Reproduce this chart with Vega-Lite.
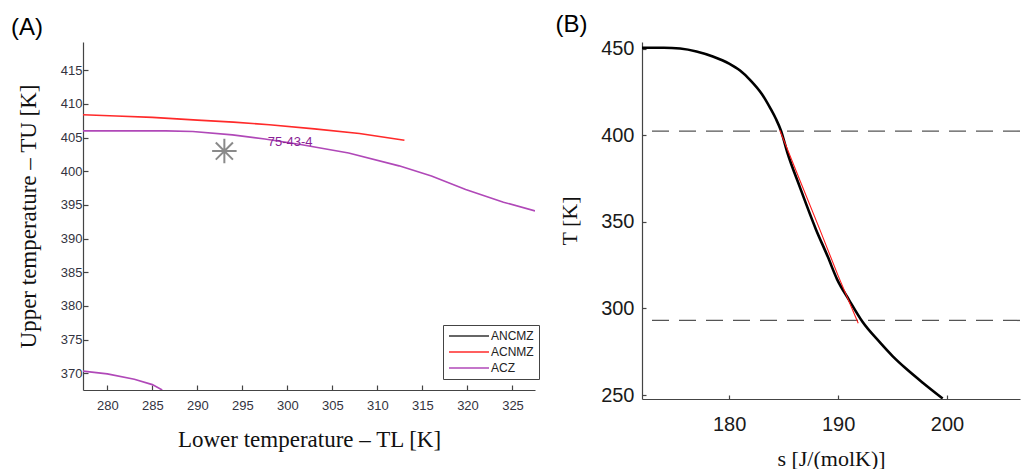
{
  "$schema": "https://vega.github.io/schema/vega-lite/v6.json",
  "background": "white",
  "padding": {"left": 11, "top": 12, "right": 0, "bottom": 0},
  "spacing": 20,
  "config": {
    "view": {"stroke": null},
    "axis": {"grid": false, "labelOverlap": false, "labelFlush": false, "domainColor": "#444444", "tickColor": "#444444", "domainWidth": 1.2, "tickWidth": 1.2, "labelFont": "Liberation Sans", "titleFont": "Liberation Serif", "titleFontWeight": "normal", "titleColor": "#111111"}
  },
  "datasets": {
    "a_lines": [
      {"series": "ACNMZ", "seg": "r1", "TL": 277.3, "TU": 408.4},
      {"series": "ACNMZ", "seg": "r1", "TL": 281, "TU": 408.2},
      {"series": "ACNMZ", "seg": "r1", "TL": 285, "TU": 408.0},
      {"series": "ACNMZ", "seg": "r1", "TL": 290, "TU": 407.6},
      {"series": "ACNMZ", "seg": "r1", "TL": 294, "TU": 407.3},
      {"series": "ACNMZ", "seg": "r1", "TL": 298, "TU": 406.9},
      {"series": "ACNMZ", "seg": "r1", "TL": 303, "TU": 406.3},
      {"series": "ACNMZ", "seg": "r1", "TL": 308, "TU": 405.6},
      {"series": "ACNMZ", "seg": "r1", "TL": 313, "TU": 404.6},
      {"series": "ACZ", "seg": "p1", "TL": 277.3, "TU": 406.0},
      {"series": "ACZ", "seg": "p1", "TL": 283, "TU": 406.0},
      {"series": "ACZ", "seg": "p1", "TL": 286.5, "TU": 406.0},
      {"series": "ACZ", "seg": "p1", "TL": 289.5, "TU": 405.9},
      {"series": "ACZ", "seg": "p1", "TL": 293.9, "TU": 405.4},
      {"series": "ACZ", "seg": "p1", "TL": 297.5, "TU": 404.8},
      {"series": "ACZ", "seg": "p1", "TL": 301.3, "TU": 404.0},
      {"series": "ACZ", "seg": "p1", "TL": 306.8, "TU": 402.7},
      {"series": "ACZ", "seg": "p1", "TL": 312.4, "TU": 400.8},
      {"series": "ACZ", "seg": "p1", "TL": 316, "TU": 399.3},
      {"series": "ACZ", "seg": "p1", "TL": 319.8, "TU": 397.3},
      {"series": "ACZ", "seg": "p1", "TL": 324, "TU": 395.4},
      {"series": "ACZ", "seg": "p1", "TL": 327.5, "TU": 394.1},
      {"series": "ACZ", "seg": "p2", "TL": 277.3, "TU": 370.3},
      {"series": "ACZ", "seg": "p2", "TL": 280, "TU": 369.9},
      {"series": "ACZ", "seg": "p2", "TL": 283, "TU": 369.1},
      {"series": "ACZ", "seg": "p2", "TL": 285, "TU": 368.3},
      {"series": "ACZ", "seg": "p2", "TL": 286.1, "TU": 367.5}
    ],
    "a_star": [{"TL": 293.0, "TU": 403.0}],
    "a_label": [{"TL": 300.3, "TU": 404.4, "text": "75-43-4"}],
    "b_black": [
      {"s": 172.0, "T": 450.6}, {"s": 174.0, "T": 450.7}, {"s": 175.5, "T": 450.2},
      {"s": 177.0, "T": 448.5}, {"s": 178.5, "T": 445.6}, {"s": 180.0, "T": 441.5},
      {"s": 181.0, "T": 437.5}, {"s": 182.0, "T": 431.6}, {"s": 183.0, "T": 424.0},
      {"s": 183.8, "T": 415.5}, {"s": 184.3, "T": 409.5}, {"s": 184.75, "T": 402.9},
      {"s": 185.35, "T": 390}, {"s": 186.5, "T": 370}, {"s": 187.95, "T": 346},
      {"s": 189.05, "T": 330}, {"s": 189.9, "T": 317}, {"s": 191.0, "T": 305},
      {"s": 192.24, "T": 292.3}, {"s": 193.78, "T": 280.8}, {"s": 195.0, "T": 272.5},
      {"s": 196.23, "T": 265.3}, {"s": 197.8, "T": 257}, {"s": 199.6, "T": 248}
    ],
    "b_red": [
      {"s": 184.65, "T": 403}, {"s": 186.5, "T": 374}, {"s": 188.3, "T": 346},
      {"s": 190.0, "T": 319}, {"s": 191.85, "T": 291.5}
    ],
    "b_dash": [{"T": 402.5}, {"T": 293.1}]
  },
  "hconcat": [
    {
      "width": 452,
      "height": 348,
      "title": {"text": "(A)", "anchor": "start", "frame": "group", "dx": -72, "dy": 23, "offset": 1, "baseline": "bottom", "fontSize": 24, "font": "Liberation Sans", "fontWeight": "normal", "color": "#000000"},
      "encoding": {
        "x": {"field": "TL", "type": "quantitative",
          "scale": {"domain": [277.3, 327.5], "nice": false, "zero": false},
          "axis": {"title": "Lower temperature – TL [K]", "values": [280, 285, 290, 295, 300, 305, 310, 315, 320, 325], "tickSize": -5, "labelPadding": 14, "labelFontSize": 13, "labelColor": "#333340", "titleFontSize": 23, "titlePadding": 16}},
        "y": {"field": "TU", "type": "quantitative",
          "scale": {"domain": [367.5, 419.2], "nice": false, "zero": false},
          "axis": {"title": "Upper temperature – TU [K]", "values": [370, 375, 380, 385, 390, 395, 400, 405, 410, 415], "tickSize": -5, "labelPadding": 6, "labelFontSize": 13, "labelColor": "#333340", "titleFontSize": 23, "titlePadding": 20}}
      },
      "layer": [
        {
          "data": {"name": "a_lines"},
          "mark": {"type": "line", "strokeWidth": 1.6, "clip": true},
          "encoding": {
            "color": {"field": "series", "type": "nominal",
              "scale": {"domain": ["ANCMZ", "ACNMZ", "ACZ"], "range": ["#333333", "#ff2a2a", "#b048b8"]},
              "legend": {"orient": "none", "legendX": 360, "legendY": 283, "title": null, "symbolType": "M-4,0L4,0", "symbolSize": 100, "symbolStrokeWidth": 1.5, "symbolOffset": 15, "labelOffset": 16, "labelFontSize": 12, "labelFont": "Liberation Sans", "labelColor": "#222222", "strokeColor": "#444444", "fillColor": "white", "padding": 5, "rowPadding": 4}},
            "detail": {"field": "seg"}
          }
        },
        {
          "data": {"name": "a_star"},
          "mark": {"type": "point", "shape": "M-1,0L1,0M0,-1L0,1M-0.7,-0.7L0.7,0.7M-0.7,0.7L0.7,-0.7", "size": 600, "filled": false, "stroke": "#8a8a8a", "strokeWidth": 2, "opacity": 1}
        },
        {
          "data": {"name": "a_label"},
          "mark": {"type": "text", "font": "Liberation Sans", "fontSize": 13, "color": "#8a1f96", "align": "center", "baseline": "middle"},
          "encoding": {
            "text": {"field": "text"}
          }
        }
      ]
    },
    {
      "width": 378,
      "height": 357,
      "title": {"text": "(B)", "anchor": "start", "frame": "group", "dx": -86.6, "dy": 23, "offset": 1, "baseline": "bottom", "fontSize": 24, "font": "Liberation Sans", "fontWeight": "normal", "color": "#000000"},
      "layer": [
        {
          "data": {"name": "b_dash"},
          "mark": {"type": "rule", "stroke": "#555555", "strokeWidth": 1.3, "strokeDash": [17, 10]},
          "encoding": {
            "y": {"field": "T", "type": "quantitative",
              "scale": {"domain": [247.7, 454], "nice": false, "zero": false},
              "axis": {"title": "T [K]", "values": [250, 300, 350, 400, 450], "tickSize": -4, "labelPadding": 12, "labelFontSize": 20, "labelColor": "#1a1a1a", "titleFontSize": 22, "titlePadding": 19}}
          }
        },
        {
          "data": {"name": "b_black"},
          "mark": {"type": "line", "stroke": "#000000", "strokeWidth": 2.6, "interpolate": "monotone", "clip": true},
          "encoding": {
            "x": {"field": "s", "type": "quantitative",
              "scale": {"domain": [172.0, 206.7], "nice": false, "zero": false},
              "axis": {"title": "s [J/(molK)]", "values": [180, 190, 200], "tickSize": -4, "labelPadding": 19, "labelFontSize": 20, "labelColor": "#1a1a1a", "titleFontSize": 22, "titlePadding": 14}},
            "y": {"field": "T", "type": "quantitative"}
          }
        },
        {
          "data": {"name": "b_red"},
          "mark": {"type": "line", "stroke": "#ff1a1a", "strokeWidth": 1.1, "clip": true},
          "encoding": {
            "x": {"field": "s", "type": "quantitative"},
            "y": {"field": "T", "type": "quantitative"}
          }
        }
      ]
    }
  ]
}
